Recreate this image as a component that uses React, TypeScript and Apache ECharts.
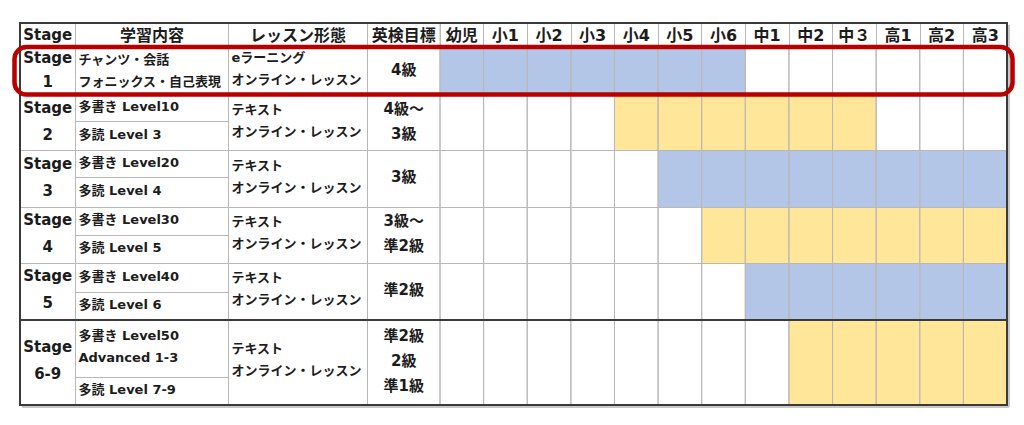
import React, { useEffect, useRef } from "react";
import * as echarts from "echarts";

// ---------- data ----------
const headerLabels = ["Stage", "学習内容", "レッスン形態", "英検目標"];
const gradeLabels = ["幼児", "小1", "小2", "小3", "小4", "小5", "小6", "中1", "中2", "中３", "高1", "高2", "高3"];
const stageLabels = ["Stage\n1", "Stage\n2", "Stage\n3", "Stage\n4", "Stage\n5", "Stage\n6-9"];
const writingContents = [
  "チャンツ・会話\nフォニックス・自己表現",
  "多書き Level10",
  "多書き Level20",
  "多書き Level30",
  "多書き Level40",
  "多書き Level50\nAdvanced 1-3",
];
const readingContents = ["", "多読 Level 3", "多読 Level 4", "多読 Level 5", "多読 Level 6", "多読 Level 7-9"];
const lessonForms = [
  "eラーニング\nオンライン・レッスン",
  "テキスト\nオンライン・レッスン",
  "テキスト\nオンライン・レッスン",
  "テキスト\nオンライン・レッスン",
  "テキスト\nオンライン・レッスン",
  "テキスト\nオンライン・レッスン",
];
const eikenTargets = ["4級", "4級～\n3級", "3級", "3級～\n準2級", "準2級", "準2級\n2級\n準1級"];
const gradeFrom = [0, 4, 5, 6, 7, 8];
const gradeTo = [6, 9, 12, 12, 12, 12];

// ---------- layout / style ----------
const FRAME = { left: 20, top: 23, right: 1007, bottom: 405 };
const HEADER_BOTTOM = 47.5;
const TEXT_COL_EDGES = [20, 75.5, 228.5, 367.5, 440];
const ROW_EDGES = [47.5, 95.5, 150.5, 207.5, 263.5, 320, 405];
const SUB_EDGES: (number | null)[] = [null, 121.5, 177.5, 235.5, 292.5, 377.5];
const FONT = "'DejaVu Sans', 'Noto Sans CJK JP', sans-serif";
const TEXT = "#1c1c1c";
const LINE = "#b8b8b8";
const DARK = "#3a3a3a";
const FILLS = ["#b4c6e7", "#ffe699"];

type Cell = {
  x0: number; x1: number; y0: number; y1: number;
  text: string; align: "left" | "center"; size: number; lh: number; dy: number;
};

function buildCells(): Cell[] {
  const cells: Cell[] = [];
  headerLabels.forEach((t, c) => {
    cells.push({
      x0: TEXT_COL_EDGES[c], x1: TEXT_COL_EDGES[c + 1], y0: FRAME.top, y1: HEADER_BOTTOM,
      text: t, align: "center", size: c === 0 ? 15 : 16, lh: 20, dy: 0,
    });
  });
  stageLabels.forEach((label, s) => {
    const y0 = ROW_EDGES[s];
    const y1 = ROW_EDGES[s + 1];
    cells.push({ x0: TEXT_COL_EDGES[0], x1: TEXT_COL_EDGES[1], y0, y1, text: label, align: "center", size: 15, lh: s === 0 ? 24 : 27, dy: -2 });
    const sub = SUB_EDGES[s];
    if (sub === null) {
      cells.push({ x0: TEXT_COL_EDGES[1], x1: TEXT_COL_EDGES[2], y0, y1, text: writingContents[s], align: "left", size: 13, lh: 22, dy: -1 });
    } else {
      cells.push({ x0: TEXT_COL_EDGES[1], x1: TEXT_COL_EDGES[2], y0, y1: sub, text: writingContents[s], align: "left", size: 13, lh: 22, dy: -2 });
      cells.push({ x0: TEXT_COL_EDGES[1], x1: TEXT_COL_EDGES[2], y0: sub, y1, text: readingContents[s], align: "left", size: 13, lh: 22, dy: -2 });
    }
    cells.push({ x0: TEXT_COL_EDGES[2], x1: TEXT_COL_EDGES[3], y0, y1, text: lessonForms[s], align: "left", size: 13, lh: 22, dy: -3 });
    cells.push({ x0: TEXT_COL_EDGES[3], x1: TEXT_COL_EDGES[4], y0, y1, text: eikenTargets[s], align: "center", size: 15, lh: 25, dy: -2 });
  });
  return cells;
}

export default function App() {
  const ref = useRef<HTMLDivElement>(null);
  useEffect(() => {
    if (!ref.current) return;
    const chart = echarts.init(ref.current, null, { renderer: "svg" });
    const cells = buildCells();
    const gradeData: number[][] = [];
    stageLabels.forEach((_, s) => {
      gradeLabels.forEach((__, g) => {
        const filled = g >= gradeFrom[s] && g <= gradeTo[s] ? 1 : 0;
        gradeData.push([g, ROW_EDGES[s], ROW_EDGES[s + 1], filled, s]);
      });
    });

    const option: any = {
      animation: false,
      backgroundColor: "#ffffff",
      grid: [
        { left: FRAME.left, top: FRAME.top, width: TEXT_COL_EDGES[4] - FRAME.left, height: FRAME.bottom - FRAME.top },
        { left: TEXT_COL_EDGES[4], top: 47, width: FRAME.right - TEXT_COL_EDGES[4], height: FRAME.bottom - 47 },
      ],
      xAxis: [
        { type: "value", gridIndex: 0, min: FRAME.left, max: TEXT_COL_EDGES[4], show: false },
        {
          type: "category", gridIndex: 1, data: gradeLabels, position: "top",
          axisLine: { show: true, lineStyle: { color: LINE, width: 1 } },
          axisTick: { show: true, interval: 0, length: 24, lineStyle: { color: LINE } },
          axisLabel: { interval: 0, margin: 4, fontSize: 16, fontWeight: "bold", color: TEXT, fontFamily: FONT },
          splitLine: { show: false },
        },
      ],
      yAxis: [
        { type: "value", gridIndex: 0, min: FRAME.top, max: FRAME.bottom, inverse: true, show: false },
        { type: "value", gridIndex: 1, min: 47, max: FRAME.bottom, inverse: true, show: false },
      ],
      series: [
        {
          type: "custom",
          xAxisIndex: 0, yAxisIndex: 0,
          data: cells.map((c, i) => [c.x0, c.y0, c.x1, c.y1, i]),
          encode: { x: [0, 2], y: [1, 3] },
          renderItem: (params: any, api: any) => {
            const c = cells[api.value(4)];
            const p0 = api.coord([api.value(0), api.value(1)]);
            const p1 = api.coord([api.value(2), api.value(3)]);
            const tx = c.align === "center" ? (p0[0] + p1[0]) / 2 : p0[0] + 3;
            return {
              type: "group",
              children: [
                {
                  type: "rect",
                  shape: { x: p0[0], y: p0[1], width: p1[0] - p0[0], height: p1[1] - p0[1] },
                  style: { fill: "none", stroke: LINE, lineWidth: 1 },
                },
                {
                  type: "text",
                  style: {
                    text: c.text, x: tx, y: (p0[1] + p1[1]) / 2 + c.dy,
                    align: c.align, verticalAlign: "middle",
                    fontSize: c.size, fontWeight: "bold", fontFamily: FONT,
                    lineHeight: c.lh, fill: TEXT,
                  },
                },
              ],
            };
          },
        },
        {
          type: "custom",
          xAxisIndex: 1, yAxisIndex: 1,
          data: gradeData,
          encode: { x: 0, y: [1, 2] },
          renderItem: (params: any, api: any) => {
            const top = api.coord([api.value(0), api.value(1)]);
            const bot = api.coord([api.value(0), api.value(2)]);
            const w = api.size([1, 0])[0];
            const x = top[0] - w / 2;
            const h = bot[1] - top[1];
            const children: any[] = [];
            if (api.value(3) === 1) {
              children.push({
                type: "rect", z2: 0,
                shape: { x, y: top[1], width: w, height: h },
                style: { fill: FILLS[api.value(4) % 2] },
              });
            }
            children.push({
              type: "rect", z2: 10,
              shape: { x, y: top[1], width: w, height: h },
              style: { fill: "none", stroke: LINE, lineWidth: 1 },
            });
            return { type: "group", children };
          },
        },
      ],
      graphic: [
        {
          type: "line", z: 50,
          shape: { x1: FRAME.left + 2, y1: FRAME.bottom + 2, x2: FRAME.right + 2, y2: FRAME.bottom + 2 },
          style: { stroke: "#c8c8c8", lineWidth: 2 },
        },
        {
          type: "line", z: 50,
          shape: { x1: FRAME.right + 2, y1: FRAME.top + 2, x2: FRAME.right + 2, y2: FRAME.bottom + 2 },
          style: { stroke: "#c8c8c8", lineWidth: 2 },
        },
        {
          type: "rect", z: 60,
          shape: { x: FRAME.left, y: FRAME.top, width: FRAME.right - FRAME.left, height: FRAME.bottom - FRAME.top },
          style: { fill: "none", stroke: DARK, lineWidth: 2 },
        },
        {
          type: "line", z: 60,
          shape: { x1: FRAME.left, y1: ROW_EDGES[5], x2: FRAME.right, y2: ROW_EDGES[5] },
          style: { stroke: DARK, lineWidth: 2 },
        },
        {
          type: "rect", z: 70,
          shape: { x: 14.5, y: 47, width: 998, height: 47.5, r: 12 },
          style: { fill: "none", stroke: "#b80000", lineWidth: 4.5 },
        },
      ],
    };
    chart.setOption(option);
    return () => chart.dispose();
  }, []);
  return <div ref={ref} style={{ position: "fixed", left: 0, top: 0, width: 1024, height: 425 }} />;
}
